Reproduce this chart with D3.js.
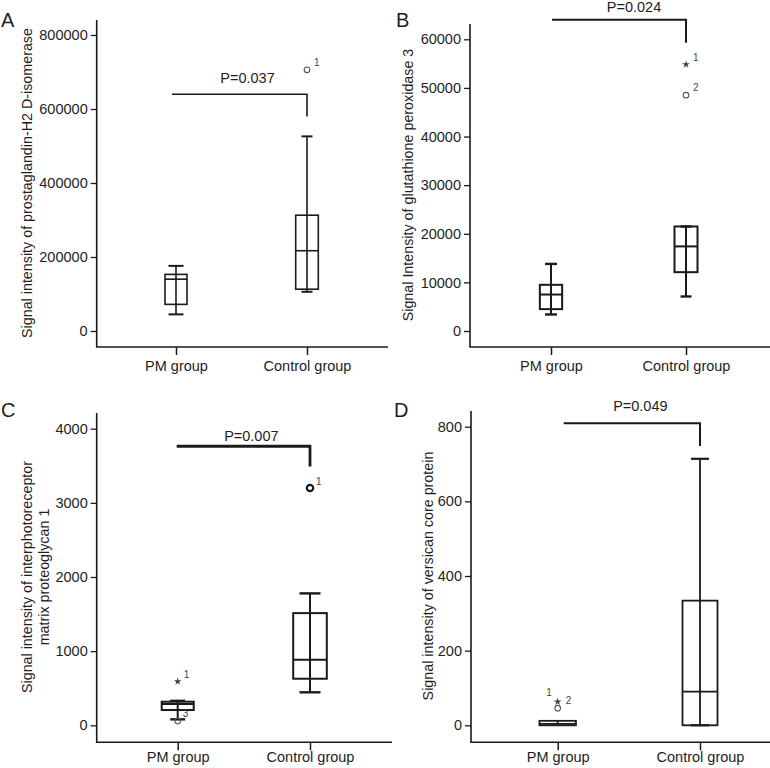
<!DOCTYPE html>
<html>
<head>
<meta charset="utf-8">
<script src="https://cdn.jsdelivr.net/npm/d3@7/dist/d3.min.js"></script>
<style>
  html, body { margin: 0; padding: 0; background: #fff; }
  svg text { font-family: "Liberation Sans", Arial, Helvetica, sans-serif; fill: #1e1e1e; }
  .olab { opacity: 0.99; }
</style>
</head>
<body>
<svg id="chart" width="770" height="768"></svg>
<script>
// ---------------- DATA ----------------
const categories = ["PM group", "Control group"];
const panelLetters = ["A", "B", "C", "D"];

const yTitleA = ["Signal intensity of prostaglandin-H2 D-isomerase"];
const yTitleB = ["Signal Intensity of glutathione peroxidase 3"];
const yTitleC = ["Signal intensity of interphotoreceptor", "matrix proteoglycan 1"];
const yTitleD = ["Signal intensity of versican core protein"];

const ticksA = [0, 200000, 400000, 600000, 800000];
const ticksB = [0, 10000, 20000, 30000, 40000, 50000, 60000];
const ticksC = [0, 1000, 2000, 3000, 4000];
const ticksD = [0, 200, 400, 600, 800];

// five-number summaries per group: [min, q1, median, q3, max]
const boxA = [[45000, 72000, 140000, 153000, 176000], [106000, 113000, 217000, 313000, 526000]];
const boxB = [[3400, 4500, 7500, 9500, 13800], [7100, 12100, 17400, 21500, 21500]];
const boxC = [[80, 206, 287, 318, 330], [445, 628, 884, 1513, 1779]];
const boxD = [[0, 0, 4, 12, 12], [0, 0, 90, 334, 714]];

// outliers: group index, value, marker, case label
const outliersA = [{ g: 1, v: 706000, shape: "circle", id: "1" }];
const outliersB = [{ g: 1, v: 54800, shape: "star", id: "1" }, { g: 1, v: 48500, shape: "circle", id: "2" }];
const outliersC = [{ g: 0, v: 590, shape: "star", id: "1" }, { g: 0, v: 58, shape: "circle", id: "3" }, { g: 1, v: 3200, shape: "circle", id: "1" }];
const outliersD = [{ g: 0, v: 63, shape: "star", id: "1" }, { g: 0, v: 46, shape: "circle", id: "2" }];

const pValues = ["P=0.037", "P=0.024", "P=0.007", "P=0.049"];
// significance bracket: [bar level, drop end on control side]
const bracketA = [640000, 580000];
const bracketB = [64000, 59300];
const bracketC = [3763, 3490];
const bracketD = [809, 748];

// ---------------- LAYOUT / STYLE ----------------
const panels = [
  { letter: panelLetters[0], title: yTitleA, ticks: ticksA, box: boxA, out: outliersA, p: pValues[0], br: bracketA,
    letterPos: [1, 27], axisX: 96.7, axisTop: 20, axisBottom: 347, axisRight: 388,
    yRange: [331, 35], xRange: [176, 307], boxW: [22, 22.6], capW: [15, 11], lw: 1.6, brW: 1.6,
    titlePos: [27, 183], titleGap: 17, catY: 371, pDx: 8, pDy: -11, labelOff: [[7, -4]], brStart: -4 },
  { letter: panelLetters[1], title: yTitleB, ticks: ticksB, box: boxB, out: outliersB, p: pValues[1], br: bracketB,
    letterPos: [396, 27], axisX: 470, axisTop: 24, axisBottom: 347, axisRight: 770,
    yRange: [331, 39.3], xRange: [551, 686], boxW: [22.3, 23], capW: [12, 11], lw: 2, brW: 2,
    titlePos: [408, 185], titleGap: 17, catY: 371, pDx: 15, pDy: -7.5, labelOff: [[7, -4], [7, -4]], brStart: 1 },
  { letter: panelLetters[2], title: yTitleC, ticks: ticksC, box: boxC, out: outliersC, p: pValues[2], br: bracketC,
    letterPos: [1, 417], axisX: 96.7, axisTop: 413, axisBottom: 742.3, axisRight: 392,
    yRange: [725.3, 428.7], xRange: [177.7, 310], boxW: [32, 33.6], capW: [15, 21], lw: 2, brW: 2.8,
    titlePos: [35.3, 577], titleGap: 17.3, catY: 762, pDx: 8, pDy: -5.5, labelOff: [[6, -4], [5, -4], [6, -3]], brStart: -1 },
  { letter: panelLetters[3], title: yTitleD, ticks: ticksD, box: boxD, out: outliersD, p: pValues[3], br: bracketD,
    letterPos: [394, 417], axisX: 471, axisTop: 411, axisBottom: 742.3, axisRight: 770,
    yRange: [725.3, 426.7], xRange: [557.7, 700], boxW: [36.5, 35], capW: [0, 18], lw: 1.8, brW: 2,
    titlePos: [428.3, 576], titleGap: 17, catY: 762, pDx: 8.5, pDy: -12, labelOff: [[-6, -6], [8, -4]], brStart: 6 }
];

const svg = d3.select("#chart");
const ink = "#1a1a1a";

panels.forEach(cfg => {
  const g = svg.append("g");
  const y = d3.scaleLinear().domain([cfg.ticks[0], cfg.ticks[cfg.ticks.length - 1]]).range(cfg.yRange);
  const x = d3.scalePoint().domain(categories).range(cfg.xRange);

  // panel letter
  g.append("text").attr("x", cfg.letterPos[0]).attr("y", cfg.letterPos[1])
    .attr("font-size", 20).text(cfg.letter);

  // y axis line
  g.append("line").attr("x1", cfg.axisX).attr("x2", cfg.axisX)
    .attr("y1", cfg.axisTop).attr("y2", cfg.axisBottom)
    .attr("stroke", ink).attr("stroke-width", 1.6);
  // x axis line
  g.append("line").attr("x1", cfg.axisX - 0.8).attr("x2", cfg.axisRight)
    .attr("y1", cfg.axisBottom).attr("y2", cfg.axisBottom)
    .attr("stroke", ink).attr("stroke-width", 1.6);

  // y ticks via d3 axis
  const yAxis = d3.axisLeft(y).tickValues(cfg.ticks).tickFormat(d3.format("d"))
    .tickSize(6).tickPadding(3);
  const ya = g.append("g").attr("transform", `translate(${cfg.axisX},0)`).call(yAxis);
  ya.select(".domain").remove();
  ya.selectAll(".tick line").attr("stroke", ink).attr("stroke-width", 1.3);
  ya.selectAll(".tick text").attr("font-size", 14.5).attr("fill", "#1e1e1e")
    .attr("font-family", "'Liberation Sans', Arial, sans-serif");

  // x ticks via d3 axis
  const xAxis = d3.axisBottom(x).tickSize(8).tickPadding(7);
  const xa = g.append("g").attr("transform", `translate(0,${cfg.axisBottom})`).call(xAxis);
  xa.select(".domain").remove();
  xa.selectAll(".tick line").attr("stroke", ink).attr("stroke-width", 1.5);
  xa.selectAll(".tick text").attr("font-size", 14.5).attr("fill", "#1e1e1e")
    .attr("font-family", "'Liberation Sans', Arial, sans-serif")
    .attr("dy", null)
    .attr("y", cfg.catY - cfg.axisBottom);

  // y title (rotated)
  const n = cfg.title.length;
  cfg.title.forEach((t, i) => {
    const cx = cfg.titlePos[0] + (i - (n - 1) / 2) * cfg.titleGap;
    g.append("text")
      .attr("transform", `translate(${cx},${cfg.titlePos[1]}) rotate(-90)`)
      .attr("text-anchor", "middle").attr("dy", "0.35em")
      .attr("font-size", 14.3).text(t);
  });

  // boxes
  cfg.box.forEach((s, i) => {
    const cx = x(categories[i]);
    const bw = cfg.boxW[i], cw = cfg.capW[i];
    g.append("line").attr("x1", cx).attr("x2", cx).attr("y1", y(s[0])).attr("y2", y(s[4]))
      .attr("stroke", ink).attr("stroke-width", cfg.lw);
    [s[0], s[4]].forEach(v => {
      g.append("line").attr("x1", cx - cw / 2).attr("x2", cx + cw / 2).attr("y1", y(v)).attr("y2", y(v))
        .attr("stroke", ink).attr("stroke-width", cfg.lw + 0.4);
    });
    g.append("rect").attr("x", cx - bw / 2).attr("width", bw)
      .attr("y", y(s[3])).attr("height", Math.max(0, y(s[1]) - y(s[3])))
      .attr("fill", "none").attr("stroke", ink).attr("stroke-width", cfg.lw);
    g.append("line").attr("x1", cx - bw / 2).attr("x2", cx + bw / 2).attr("y1", y(s[2])).attr("y2", y(s[2]))
      .attr("stroke", ink).attr("stroke-width", cfg.lw);
  });

  // outliers
  cfg.out.forEach((o, k) => {
    const cx = x(categories[o.g]), cy = y(o.v);
    const thick = cfg.letter === "C" && o.g === 1;
    if (o.shape === "circle") {
      g.append("circle").attr("cx", cx).attr("cy", cy).attr("r", thick ? 3.2 : 2.8)
        .attr("fill", "none").attr("stroke", thick ? ink : "#555").attr("stroke-width", thick ? 2.2 : 1.1);
    } else {
      g.append("path").attr("d", d3.symbol(d3.symbolStar, 18)())
        .attr("transform", `translate(${cx},${cy})`).attr("fill", "#444");
    }
    const off = cfg.labelOff[k];
    g.append("text").attr("class", "olab").attr("x", cx + off[0]).attr("y", cy + off[1])
      .attr("font-size", 10).style("fill", "#444")
      .attr("text-anchor", off[0] < 0 ? "end" : "start").text(o.id);
  });

  // significance bracket
  const x0 = x(categories[0]) + cfg.brStart, x1 = x(categories[1]);
  const yb = y(cfg.br[0]), yd = y(cfg.br[1]);
  g.append("path").attr("d", `M${x0},${yb}H${x1}V${yd}`)
    .attr("fill", "none").attr("stroke", ink).attr("stroke-width", cfg.brW);
  g.append("text").attr("x", (x0 + x1) / 2 + cfg.pDx).attr("y", yb + cfg.pDy)
    .attr("text-anchor", "middle").attr("font-size", 14.5).text(cfg.p);
});
</script>
</body>
</html>
